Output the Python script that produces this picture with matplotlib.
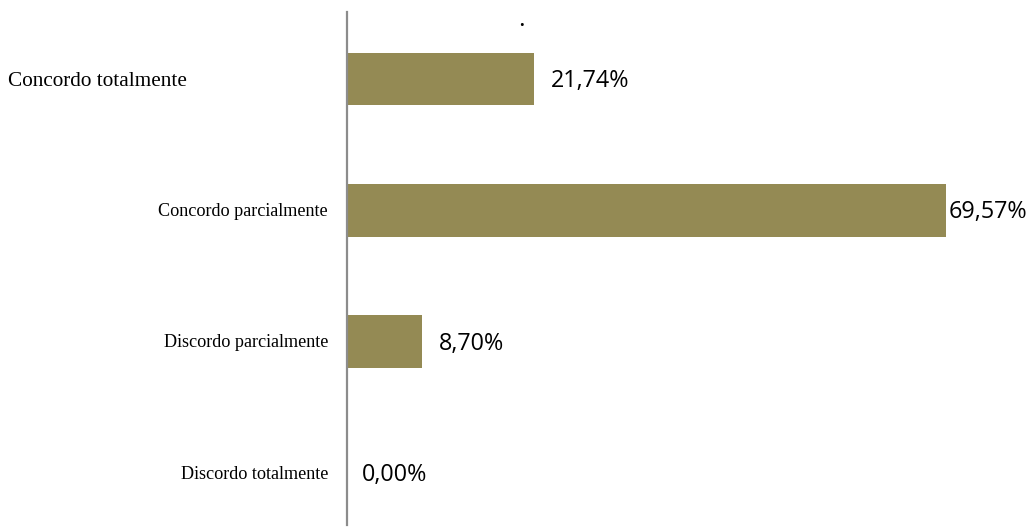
import matplotlib
matplotlib.use("Agg")
import matplotlib.pyplot as plt

categories = ["Concordo totalmente", "Concordo parcialmente", "Discordo parcialmente", "Discordo totalmente"]
values = [21.74, 69.57, 8.70, 0.00]
value_labels = ["21,74%", "69,57%", "8,70%", "0,00%"]
label_offsets = [17, 2, 17, 15]

fig = plt.figure(figsize=(10.32, 5.31), dpi=100)
W, H = 1032, 531
ax = fig.add_axes([347 / W, (H - 525) / H, (W - 347) / W, (525 - 12) / H])

pos = list(range(len(categories)))
bars = ax.barh(pos, values, height=0.40, color="#948A54")
ax.set_xlim(0, 79.5)
ax.set_ylim(3 + 0.395, -0.51)

for s in ["top", "right", "bottom"]:
    ax.spines[s].set_visible(False)
ax.spines["left"].set_color("#8c8c8c")
ax.spines["left"].set_linewidth(1.6)
ax.set_xticks([])
ax.set_yticks([])

for p, v, lab, off in zip(pos, values, value_labels, label_offsets):
    ax.annotate(lab, xy=(v, p), xytext=(off, -2), textcoords="offset pixels",
                ha="left", va="center", fontsize=16.8, family="Open Sans", color="black")

for i, (p, cat) in enumerate(zip(pos, categories)):
    if i == 0:
        ax.annotate(cat, xy=(0, p), xycoords=("axes fraction", "data"), xytext=(8 / W, -2),
                    textcoords=("figure fraction", "offset points"), ha="left", va="center",
                    fontsize=15.3, family="Liberation Serif")
    else:
        ax.annotate(cat, xy=(0, p), xycoords=("axes fraction", "data"), xytext=(-19, -1),
                    textcoords="offset pixels", ha="right", va="center",
                    fontsize=13.1, family="Liberation Serif")

fig.text(521 / W, 1 - 26 / H, ".", ha="center", va="baseline", fontsize=18, family="Open Sans")

fig.savefig("out.png", dpi=100, facecolor="white")
